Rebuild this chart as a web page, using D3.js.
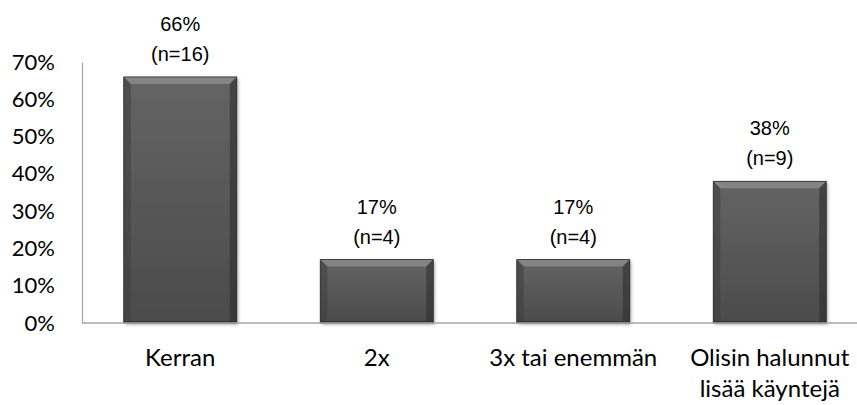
<!DOCTYPE html>
<html>
<head>
<meta charset="utf-8">
<script src="https://cdn.jsdelivr.net/npm/d3@7"></script>
<style>
  html, body { margin: 0; padding: 0; background: #fff; }
  svg { display: block; }
</style>
</head>
<body>
<svg id="chart" width="857" height="405"></svg>
<script>
// Data
const categories = ["Kerran", "2x", "3x tai enemmän", "Olisin halunnut\nlisää käyntejä"];
const percentValues = [66, 17, 17, 38];
const counts = [16, 4, 4, 9];
const yTicks = [0, 10, 20, 30, 40, 50, 60, 70];

const svg = d3.select("#chart");
const margin = { left: 82, right: -11, top: 62, bottom: 82 };
const W = 857, H = 405;

const x = d3.scaleBand()
  .domain(categories)
  .range([margin.left, W - margin.right])
  .paddingInner(0.425)
  .paddingOuter(0.2125);

const y = d3.scaleLinear()
  .domain([0, 70])
  .range([H - margin.bottom, margin.top]);

// Gradient and shadow definitions for the bevelled bars
const defs = svg.append("defs");
const grad = defs.append("linearGradient").attr("id", "barFill")
  .attr("x1", 0).attr("y1", 0).attr("x2", 0).attr("y2", 1);
grad.append("stop").attr("offset", "0%").attr("stop-color", "#646464");
grad.append("stop").attr("offset", "100%").attr("stop-color", "#4b4b4b");

const shadow = defs.append("filter").attr("id", "barShadow")
  .attr("x", "-10%").attr("y", "-10%").attr("width", "130%").attr("height", "130%");
shadow.append("feDropShadow").attr("dx", 1.5).attr("dy", 1.5)
  .attr("stdDeviation", 1.5).attr("flood-color", "#000").attr("flood-opacity", 0.35);

// Y axis line (no tick marks) and tick labels
const yAxis = d3.axisLeft(y).tickValues(yTicks).tickSize(0).tickPadding(27)
  .tickFormat(d => d + "%");
const gy = svg.append("g").attr("transform", `translate(${margin.left},0)`).call(yAxis);
gy.select(".domain").attr("stroke", "#a6a6a6").attr("stroke-width", 1.3);
gy.selectAll("text")
  .attr("font-family", "Lato, 'Open Sans', sans-serif")
  .attr("font-size", 22).attr("fill", "#000");

// Bars
const bevel = 7;
const bars = svg.append("g").selectAll("g.bar")
  .data(categories.map((c, i) => ({ c, v: percentValues[i], n: counts[i] })))
  .join("g").attr("class", "bar");

bars.each(function(d) {
  const g = d3.select(this);
  const x0 = x(d.c), w = x.bandwidth();
  const y0 = y(d.v), y1 = y(0);
  const h = y1 - y0;
  g.append("rect").attr("x", x0).attr("y", y0).attr("width", w).attr("height", h)
    .attr("fill", "url(#barFill)").attr("filter", "url(#barShadow)");
  const b = Math.min(bevel, h / 3);
  // top bevel (light)
  g.append("polygon")
    .attr("points", [[x0, y0], [x0 + w, y0], [x0 + w - b, y0 + b], [x0 + b, y0 + b]].join(" "))
    .attr("fill", "#8a8a8a").attr("opacity", 0.85);
  // left bevel
  g.append("polygon")
    .attr("points", [[x0, y0], [x0 + b, y0 + b], [x0 + b, y1 - 2], [x0, y1]].join(" "))
    .attr("fill", "#3f3f3f").attr("opacity", 0.6);
  // right bevel
  g.append("polygon")
    .attr("points", [[x0 + w, y0], [x0 + w - b, y0 + b], [x0 + w - b, y1 - 2], [x0 + w, y1]].join(" "))
    .attr("fill", "#2e2e2e").attr("opacity", 0.6);
  // bottom edge
  g.append("rect").attr("x", x0).attr("y", y1 - 2).attr("width", w).attr("height", 2)
    .attr("fill", "#333");
  g.append("rect").attr("x", x0).attr("y", y0).attr("width", w).attr("height", h)
    .attr("fill", "none").attr("stroke", "#2a2a2a").attr("stroke-width", 0.8);

  // value labels
  const cx = x0 + w / 2;
  const t = g.append("text").attr("text-anchor", "middle")
    .attr("font-family", "'Liberation Sans', Arial, sans-serif")
    .attr("font-size", 20).attr("fill", "#000");
  t.append("tspan").attr("x", cx).attr("y", y0 - 46).text(d.v + "%");
  t.append("tspan").attr("x", cx).attr("y", y0 - 16).text("(n=" + d.n + ")");
});

// Baseline (x axis)
svg.append("line")
  .attr("x1", margin.left).attr("x2", W)
  .attr("y1", y(0)).attr("y2", y(0))
  .attr("stroke", "#a6a6a6").attr("stroke-width", 1.3);

// Category labels
const cat = svg.append("g").selectAll("text")
  .data(categories).join("text")
  .attr("text-anchor", "middle")
  .attr("font-family", "Lato, 'Open Sans', sans-serif")
  .attr("font-size", 24).attr("fill", "#000");
cat.each(function(c) {
  const lines = c.split("\n");
  const cx = x(c) + x.bandwidth() / 2;
  lines.forEach((ln, i) => {
    d3.select(this).append("tspan").attr("x", cx).attr("y", y(0) + 43 + i * 31).text(ln);
  });
});
</script>
</body>
</html>
